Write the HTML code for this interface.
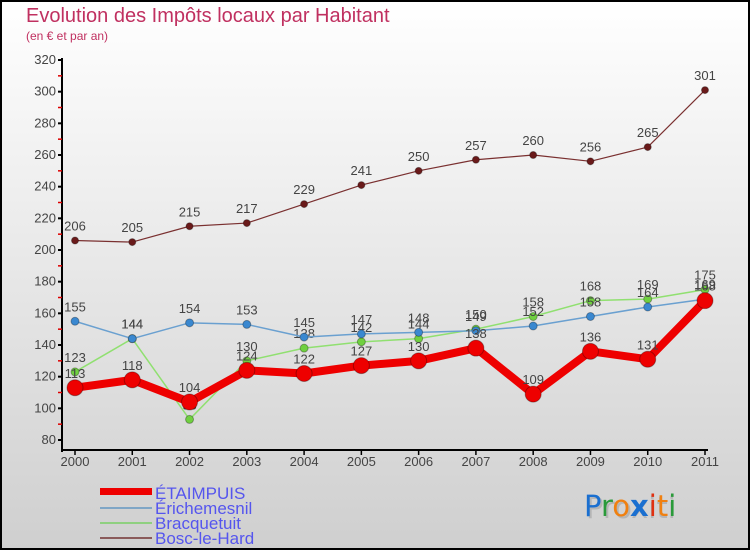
<!DOCTYPE html>
<html><head><meta charset="utf-8"><style>
html,body{margin:0;padding:0}
body{width:750px;height:550px;overflow:hidden;font-family:"Liberation Sans",sans-serif}
</style></head><body>
<svg id="chart" width="750" height="550" xmlns="http://www.w3.org/2000/svg" font-family="Liberation Sans, sans-serif">
<defs><linearGradient id="bg" x1="0" y1="0" x2="0" y2="1"><stop offset="0" stop-color="#ffffff"/><stop offset="1" stop-color="#cfcfcf"/></linearGradient></defs>
<rect x="1" y="1" width="748" height="548" fill="url(#bg)" stroke="#000" stroke-width="2"/>
<text x="26" y="22" font-size="20" fill="#c03060">Evolution des Impôts locaux par Habitant</text>
<text x="26" y="40" font-size="12" fill="#c03060">(en € et par an)</text>
<g id="axes"></g><g id="series"></g>
<g font-size="17" fill="#5555ee">
<rect x="100" y="488" width="52" height="7" fill="#ee0000"/>
<text x="155" y="499">ÉTAIMPUIS</text>
<line x1="100" y1="508" x2="152" y2="508" stroke="#7fa6c6" stroke-width="2"/>
<text x="155" y="514">Érichemesnil</text>
<line x1="100" y1="523" x2="152" y2="523" stroke="#8fd080" stroke-width="2"/>
<text x="155" y="529">Bracquetuit</text>
<line x1="100" y1="538" x2="152" y2="538" stroke="#8a5a5a" stroke-width="2"/>
<text x="155" y="544">Bosc-le-Hard</text>
</g>
<g font-size="29" font-family="DejaVu Sans, sans-serif">
<text x="584" y="516" fill="#999" opacity="0.5" transform="translate(2,2)">Proxiti</text>
<text x="584" y="516"><tspan fill="#1a6fd0">P</tspan><tspan fill="#2a9a3a">r</tspan><tspan fill="#f08010">o</tspan><tspan fill="#1a6fd0" font-weight="bold">x</tspan><tspan fill="#e03010">i</tspan><tspan fill="#f08010">t</tspan><tspan fill="#2a9a3a">i</tspan></text>
</g>
</svg>
<script>
const years=["2000","2001","2002","2003","2004","2005","2006","2007","2008","2009","2010","2011"];
const yTicks=[80,100,120,140,160,180,200,220,240,260,280,300,320];
const etaimpuis=[113,118,104,124,122,127,130,138,109,136,131,168];
const erichemesnil=[155,144,154,153,145,147,148,149,152,158,164,169];
const bracquetuit=[123,144,93,130,138,142,144,150,158,168,169,175];
const boscLeHard=[206,205,215,217,229,241,250,257,260,256,265,301];
const NS="http://www.w3.org/2000/svg";
const xS=i=>75+i*(630/11);
const yS=v=>440-(v-80)*380/240;
function mk(tag,attrs,parent){const e=document.createElementNS(NS,tag);for(const k in attrs)e.setAttribute(k,attrs[k]);parent.appendChild(e);return e;}
const ax=document.getElementById('axes');
const yAxis=mk('line',{x1:62,y1:58,x2:62,y2:452,stroke:'#000','stroke-width':2},ax);


const xAxis=mk('line',{x1:61,y1:450,x2:708,y2:450,stroke:'#000','stroke-width':2},ax);


yTicks.forEach(v=>{
  mk('line',{x1:58,y1:yS(v),x2:62,y2:yS(v),stroke:'#000','stroke-width':2},ax);
  if(v<320)mk('line',{x1:58,y1:yS(v+10),x2:62,y2:yS(v+10),stroke:'#d00','stroke-width':1.5},ax);
  const t=mk('text',{x:56,y:yS(v)+4,'font-size':13,fill:'#444','text-anchor':'end'},ax);
  t.textContent=v;
  
  
});
years.forEach((y,i)=>{
  mk('line',{x1:xS(i),y1:450,x2:xS(i),y2:455,stroke:'#000','stroke-width':1.5},ax);
  const t=mk('text',{x:xS(i),y:466,'font-size':13,fill:'#444','text-anchor':'middle'},ax);
  t.textContent=y;
  
  
});
const sg=document.getElementById('series');
function draw(vals,name,color,lw,r,mcol){
  const g=mk('g',{},sg);
  
  
  const pl=mk('polyline',{points:vals.map((v,i)=>xS(i)+','+yS(v)).join(' '),fill:'none',stroke:color,'stroke-width':lw,'stroke-linejoin':'round'},g);
  
  
  vals.forEach((v,i)=>{
    const c=mk('circle',{cx:xS(i),cy:yS(v),r:r,fill:mcol,stroke:'rgba(0,0,0,0.3)','stroke-width':1},g);
    
    
    const t=mk('text',{x:xS(i),y:yS(v)-10,'font-size':13,fill:'#444','text-anchor':'middle'},g);
    t.textContent=v;
    
    
  });
}
draw(boscLeHard,'bosc-le-hard','#7a3030',1.2,3.5,'#6a1a1a');
draw(bracquetuit,'bracquetuit','#90e070',1.5,4,'#70d040');
draw(erichemesnil,'erichemesnil','#6aa0d0',1.5,4,'#3a88d0');
draw(etaimpuis,'etaimpuis','#ee0000',8,8,'#ee0000');
</script>
</body></html>
